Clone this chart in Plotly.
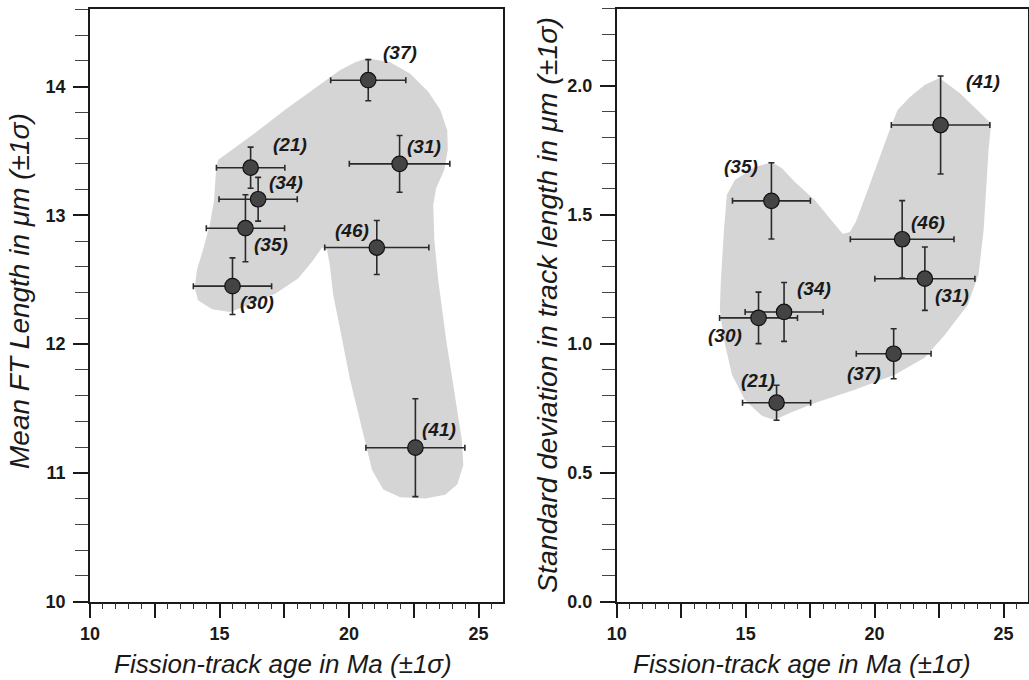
import plotly.graph_objects as go

# ---------------- data ----------------
samples = ['37', '21', '34', '35', '30', '31', '46', '41']
ft_age = [20.74, 16.20, 16.49, 16.00, 15.50, 21.95, 21.07, 22.56]
ft_age_err = [1.45, 1.32, 1.51, 1.51, 1.51, 1.94, 2.01, 1.91]
mean_len = [14.05, 13.37, 13.125, 12.90, 12.45, 13.40, 12.75, 11.195]
mean_len_err = [0.16, 0.16, 0.17, 0.26, 0.22, 0.22, 0.21, 0.38]
std_len = [0.961, 0.771, 1.123, 1.554, 1.10, 1.252, 1.405, 1.848]
std_len_err = [0.097, 0.068, 0.114, 0.148, 0.10, 0.123, 0.15, 0.19]

# shaded envelopes (data coordinates)
hull_left_x = [20.69, 21.59, 22.36, 23.06, 23.52, 23.79, 23.81, 23.67, 23.36, 23.25, 23.29, 23.44,
               23.75, 24.10, 24.35, 24.41, 24.18, 23.71, 22.94, 21.97, 21.32, 20.89, 20.51, 20.04,
               19.66, 19.39, 19.25, 19.15, 18.96, 18.57, 18.03, 17.15, 16.18, 15.41, 14.71, 14.17,
               14.04, 14.13, 14.36, 14.63, 14.79, 14.85, 14.94, 15.48, 16.37, 17.53, 18.69, 19.66, 20.24]
hull_left_y = [14.22, 14.19, 14.10, 13.96, 13.82, 13.66, 13.51, 13.35, 13.21, 13.08, 12.81, 12.50,
               12.03, 11.57, 11.26, 11.06, 10.91, 10.83, 10.80, 10.81, 10.87, 11.02, 11.33, 11.72,
               12.11, 12.38, 12.62, 12.73, 12.75, 12.64, 12.51, 12.39, 12.31, 12.25, 12.27, 12.34,
               12.44, 12.58, 12.73, 12.93, 13.12, 13.31, 13.43, 13.51, 13.64, 13.82, 13.99, 14.13, 14.19]
hull_right_x = [22.52, 23.30, 24.52, 24.42, 24.23, 24.03, 23.61, 22.72, 21.94, 20.78, 19.23, 17.68,
                16.71, 16.13, 15.63, 14.97, 14.47, 14.16, 14.00, 14.04, 14.16, 14.27, 14.58, 15.36,
                16.01, 16.40, 16.91, 17.68, 18.38, 18.77, 19.04, 19.27, 19.62, 20.08, 20.58, 20.89,
                21.36, 21.94]
hull_right_y = [2.030, 1.972, 1.854, 1.751, 1.441, 1.267, 1.150, 1.034, 0.945, 0.879, 0.821, 0.770,
                0.731, 0.704, 0.720, 0.782, 0.879, 1.015, 1.131, 1.247, 1.441, 1.577, 1.635, 1.685,
                1.704, 1.681, 1.627, 1.557, 1.472, 1.425, 1.433, 1.472, 1.565, 1.693, 1.828, 1.906,
                1.956, 2.003]

x_tickvals = [10, 12.5, 15, 17.5, 20, 22.5, 25]
x_ticktext = ['10', '', '15', '', '20', '', '25']
left_y_ticks = [10, 11, 12, 13, 14]
right_y_ticks = [0.0, 0.5, 1.0, 1.5, 2.0]
right_y_text = ['0.0', '0.5', '1.0', '1.5', '2.0']

# label placement (pixel offsets of label centre from point: dx right, dy down)
left_label_off = {'37': (32, -28), '21': (39, -23), '34': (28, -17), '35': (26, 16),
                  '30': (25, 16), '31': (24, -17), '46': (-25, -17), '41': (24, -18)}
right_label_off = {'41': (42, -44), '35': (-30, -34), '46': (26, -17), '31': (27, 17),
                   '34': (30, -23), '30': (-34, 18), '37': (-30, 20), '21': (-19, -22)}

# ---------------- style ----------------
FONT = 'Arial, Liberation Sans, sans-serif'
HULL = '#d5d5d5'
MARK = '#444444'
BAR = '#2a2a2a'

W, H = 1029, 680
fig = go.Figure()

for hx, hy, xa, ya in [(hull_left_x, hull_left_y, 'x', 'y'), (hull_right_x, hull_right_y, 'x2', 'y2')]:
    fig.add_trace(go.Scatter(x=hx + [hx[0]], y=hy + [hy[0]], mode='lines', fill='toself',
                             fillcolor=HULL, line=dict(width=0, color=HULL),
                             xaxis=xa, yaxis=ya, hoverinfo='skip', showlegend=False))

for yv, ye, xa, ya in [(mean_len, mean_len_err, 'x', 'y'), (std_len, std_len_err, 'x2', 'y2')]:
    fig.add_trace(go.Scatter(
        x=ft_age, y=yv, mode='markers', xaxis=xa, yaxis=ya, showlegend=False,
        marker=dict(size=15.5, color=MARK, line=dict(color='#111111', width=1.2)),
        error_x=dict(type='data', array=ft_age_err, color=BAR, thickness=1.6, width=3),
        error_y=dict(type='data', array=ye, color=BAR, thickness=1.6, width=3),
    ))

label_font = dict(family=FONT, size=19, color='#1a1a1a')
annotations = []
for i, s in enumerate(samples):
    dx, dy = left_label_off[s]
    annotations.append(dict(x=ft_age[i], y=mean_len[i], xref='x', yref='y', text='<b><i>(%s)</i></b>' % s,
                            showarrow=False, xshift=dx, yshift=-dy, font=label_font))
    dx, dy = right_label_off[s]
    annotations.append(dict(x=ft_age[i], y=std_len[i], xref='x2', yref='y2', text='<b><i>(%s)</i></b>' % s,
                            showarrow=False, xshift=dx, yshift=-dy, font=label_font))

annotations += [
    dict(x=282.5 / W, y=1 - 664 / H, xref='paper', yref='paper', text='<i>Fission-track age in Ma (±1σ)</i>',
         showarrow=False, font=dict(family=FONT, size=26, color='#1a1a1a'), xanchor='center', yanchor='middle'),
    dict(x=802 / W, y=1 - 664 / H, xref='paper', yref='paper', text='<i>Fission-track age in Ma (±1σ)</i>',
         showarrow=False, font=dict(family=FONT, size=26, color='#1a1a1a'), xanchor='center', yanchor='middle'),
    dict(x=19 / W, y=1 - 291 / H, xref='paper', yref='paper', text='<i>Mean FT Length in μm (±1σ)</i>',
         showarrow=False, font=dict(family=FONT, size=28, color='#1a1a1a'), textangle=-90,
         xanchor='center', yanchor='middle'),
    dict(x=547 / W, y=1 - 305 / H, xref='paper', yref='paper',
         text='<i>Standard deviation in track length in μm (±1σ)</i>',
         showarrow=False, font=dict(family=FONT, size=28.5, color='#1a1a1a'), textangle=-90,
         xanchor='center', yanchor='middle'),
]

tick_font = dict(family=FONT, size=18, color='#1a1a1a', weight='bold')
ydom = [1 - 601.5 / H, 1 - 8.5 / H]

xcommon = dict(range=[10, 25.93], tickmode='array', tickvals=x_tickvals, ticktext=x_ticktext,
               ticks='outside', ticklen=15, tickwidth=1.5, tickcolor='#1a1a1a',
               minor=dict(dtick=0.5, ticks='outside', ticklen=6, tickwidth=1, tickcolor='#333333'),
               showline=True, linecolor='#1a1a1a', linewidth=1.6, mirror=True, automargin=False,
               showgrid=False, zeroline=False, tickfont=tick_font, ticklabelstandoff=0)

ycommon = dict(ticks='outside', ticklen=15, tickwidth=1.5, tickcolor='#1a1a1a',
               showline=True, linecolor='#1a1a1a', linewidth=1.6, mirror=True, automargin=False,
               showgrid=False, zeroline=False, tickfont=tick_font, ticklabelstandoff=4)

fig.update_layout(
    width=W, height=H, margin=dict(l=0, r=0, t=0, b=0, autoexpand=False),
    template='none',
    paper_bgcolor='white', plot_bgcolor='white', showlegend=False,
    xaxis=dict(domain=[90 / W, 502.7 / W], anchor='y', **xcommon),
    xaxis2=dict(domain=[616.7 / W, 1027.5 / W], anchor='y2', **xcommon),
    yaxis=dict(domain=ydom, anchor='x', range=[10, 14.607], tickmode='array', tickvals=left_y_ticks,
               minor=dict(dtick=0.2, ticks='outside', ticklen=13, tickwidth=1, tickcolor='#444444'),
               **ycommon),
    yaxis2=dict(domain=ydom, anchor='x2', range=[0, 2.30], tickmode='array', tickvals=right_y_ticks,
                ticktext=right_y_text,
                minor=dict(dtick=0.1, ticks='outside', ticklen=13, tickwidth=1, tickcolor='#444444'),
                **ycommon),
    annotations=annotations,
)

fig.write_html('out.html', config={'displayModeBar': False},
               post_script="document.body.style.margin='0';document.body.style.overflow='hidden';")
